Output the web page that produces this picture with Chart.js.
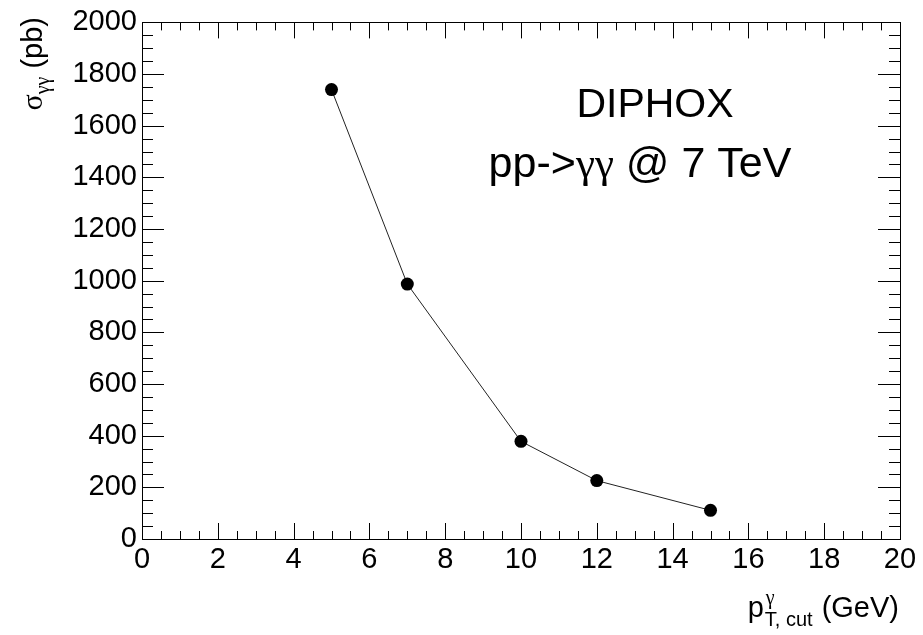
<!DOCTYPE html>
<html><head><meta charset="utf-8">
<script src="https://cdn.jsdelivr.net/npm/chart.js@4"></script>
<style>html,body{margin:0;padding:0;background:#fff}#wrap{width:923px;height:635px}</style>
</head><body><div id="wrap"><canvas id="c" width="923" height="635"></canvas></div>
<script>
// ---- data ----
const ptCut = [5, 7, 10, 12, 15];            // p_T,cut (GeV)
const sigma = [1740, 987, 378, 226, 111];    // sigma_gammagamma (pb)
const xRange = [0, 20];
const yRange = [0, 2000];
const xMajorStep = 2;
const yMajorStep = 200;
const xMinorStep = 0.5;
const yMinorStep = 50;

const SANS = '"Liberation Sans", Arial, sans-serif';
const SERIF = '"Liberation Serif", "Times New Roman", serif';

function drawTicks(ctx, scale, isX, area, step, lenMaj, lenMin, majStep) {
  const min = scale.min, max = scale.max;
  const n = Math.round((max - min) / step);
  for (let i = 0; i <= n; i++) {
    const v = min + i * step;
    const major = Math.abs(v / majStep - Math.round(v / majStep)) < 1e-6;
    const len = major ? lenMaj : lenMin;
    const p = Math.round(scale.getPixelForValue(v)) + 0.5;
    ctx.beginPath();
    if (isX) {
      ctx.moveTo(p, area.bottom); ctx.lineTo(p, area.bottom - len);
      ctx.moveTo(p, area.top); ctx.lineTo(p, area.top + len);
    } else {
      ctx.moveTo(area.left, p); ctx.lineTo(area.left + len, p);
      ctx.moveTo(area.right, p); ctx.lineTo(area.right - len, p);
    }
    ctx.stroke();
  }
}

const rootFrame = {
  id: 'rootFrame',
  afterDraw(chart) {
    const ctx = chart.ctx, a = chart.chartArea;
    ctx.save();
    ctx.strokeStyle = '#000';
    ctx.lineWidth = 1;
    ctx.strokeRect(Math.round(a.left) + 0.5, Math.round(a.top) + 0.5,
                   Math.round(a.right - a.left), Math.round(a.bottom - a.top));
    drawTicks(ctx, chart.scales.x, true, a, xMinorStep, 16, 8, xMajorStep);
    drawTicks(ctx, chart.scales.y, false, a, yMinorStep, 22, 11, yMajorStep);

    // annotation text
    ctx.fillStyle = '#000';
    ctx.textBaseline = 'alphabetic';
    ctx.textAlign = 'center';
    ctx.font = '41px ' + SANS;
    ctx.fillText('DIPHOX', 655, 117);
    // second line: pp->γγ @ 7 TeV (γ in serif)
    const segs = [['pp->', SANS], ['\u03b3\u03b3', SERIF], [' @ 7 TeV', SANS]];
    const f2 = 43;
    let tw = 0;
    segs.forEach(s => { ctx.font = f2 + 'px ' + s[1]; tw += ctx.measureText(s[0]).width; });
    let x = 640 - tw / 2;
    ctx.textAlign = 'left';
    segs.forEach(s => { ctx.font = f2 + 'px ' + s[1]; ctx.fillText(s[0], x, 177); x += ctx.measureText(s[0]).width; });

    // x-axis title: p^γ_{T, cut} (GeV), right aligned
    ctx.font = '29px ' + SANS;
    const wGeV = ctx.measureText('(GeV)').width;
    const right = 899;
    ctx.fillText('(GeV)', right - wGeV, 617);
    ctx.font = '20px ' + SANS;
    const wSub = ctx.measureText('T, cut').width;
    const subX = right - wGeV - 9 - wSub;
    ctx.fillText('T, cut', subX, 626);
    ctx.font = '20px ' + SERIF;
    ctx.fillText('\u03b3', subX + 1, 604);
    ctx.font = '29px ' + SANS;
    const wp = ctx.measureText('p').width;
    ctx.fillText('p', subX - wp - 1, 617);

    // y-axis title: σ_γγ (pb), rotated, ends at top
    ctx.save();
    ctx.translate(42, 0);
    ctx.rotate(-Math.PI / 2);
    ctx.textAlign = 'left';
    ctx.font = '29px ' + SANS;
    const wPb = ctx.measureText(' (pb)').width;
    ctx.font = '20px ' + SERIF;
    const wGG = ctx.measureText('\u03b3\u03b3').width;
    ctx.font = '30px ' + SERIF;
    const wSig = ctx.measureText('\u03c3').width;
    let u = -17 - wPb - wGG - wSig;
    ctx.fillText('\u03c3', u, 0); u += wSig;
    ctx.font = '20px ' + SERIF;
    ctx.fillText('\u03b3\u03b3', u, 7); u += wGG;
    ctx.font = '29px ' + SANS;
    ctx.fillText(' (pb)', u, 0);
    ctx.restore();
    ctx.restore();
  }
};

new Chart(document.getElementById('c'), {
  type: 'scatter',
  data: {
    datasets: [{
      data: ptCut.map((x, i) => ({ x: x, y: sigma[i] })),
      showLine: true,
      borderColor: '#222',
      borderWidth: 1,
      tension: 0,
      pointRadius: 6.5,
      pointHoverRadius: 6.5,
      pointBackgroundColor: '#000',
      pointBorderColor: '#000',
      pointBorderWidth: 0
    }]
  },
  options: {
    responsive: false,
    animation: false,
    devicePixelRatio: 1,
    layout: { padding: { top: 18, right: 23, left: 0, bottom: 0 } },
    plugins: { legend: { display: false }, tooltip: { enabled: false } },
    scales: {
      x: {
        type: 'linear', min: xRange[0], max: xRange[1],
        grid: { display: false, drawTicks: false },
        border: { display: false },
        ticks: { stepSize: xMajorStep, color: '#000', padding: 4,
                 font: { family: SANS, size: 29 }, maxRotation: 0,
                 callback: v => String(v) },
        afterFit: s => { s.height = 96; }
      },
      y: {
        type: 'linear', min: yRange[0], max: yRange[1],
        grid: { display: false, drawTicks: false },
        border: { display: false },
        ticks: { stepSize: yMajorStep, color: '#000', padding: 5,
                 font: { family: SANS, size: 29 },
                 callback: v => String(v) },
        afterFit: s => { s.width = 142; }
      }
    }
  },
  plugins: [rootFrame]
});
</script>
</body></html>
